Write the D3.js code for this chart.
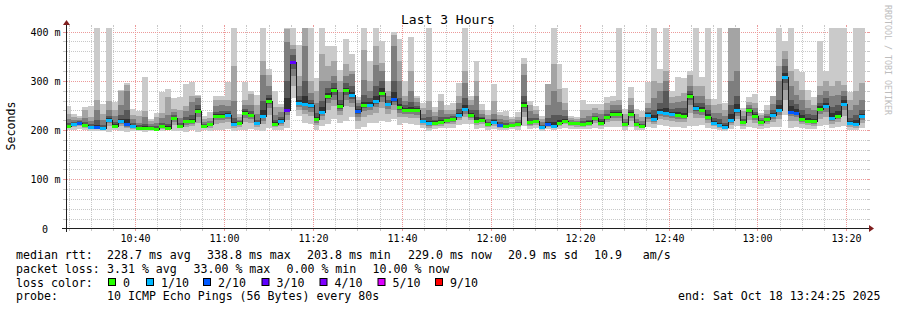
<!DOCTYPE html>
<html>
<head>
<meta charset="utf-8">
<script src="https://cdn.jsdelivr.net/npm/d3@7"></script>
<style>
body { margin: 0; background: #fff; }
text { font-family: "DejaVu Sans Mono", monospace; }
</style>
</head>
<body>
<script>
// lost pings (of 10) per 80s step, oldest first
var lossCount = [0,1,2,0,1,2,1,1,0,1,2,1,0,0,0,0,0,0,0,0,0,0,0,0,0,0,0,1,1,0,
    0,0,1,1,0,0,1,3,3,1,1,1,0,1,0,0,0,0,1,2,0,1,1,0,1,2,0,0,0,0,
    1,1,0,0,0,0,1,1,0,0,0,0,1,2,0,0,0,0,0,0,1,2,1,0,0,0,0,0,0,0,
    0,0,0,0,0,0,0,0,1,1,1,1,1,0,0,0,1,0,0,1,1,1,1,1,0,0,0,0,0,1,
    1,1,2,2,0,0,0,0,1,1,0,1,1,1,1];

// median rtt (ms) per step
var median = [209,212,215,211,207,207,205,221,209,219,212,209,205,205,204,203,208,205,224,209,
    218,218,238,209,212,229,229,231,212,215,235,230,214,228,260,212,218,241,338,256,
    254,251,222,237,270,281,248,281,271,239,251,251,259,275,252,264,246,240,240,240,
    218,214,215,216,220,222,231,242,230,219,221,212,216,211,209,210,212,250,216,218,
    206,212,209,215,219,214,214,212,215,224,215,226,233,233,212,233,212,209,231,222,
    236,235,232,231,229,269,244,241,227,215,210,207,221,240,216,240,228,216,222,231,
    241,307,237,234,222,219,218,243,249,224,229,254,214,212,228];

// the 10 sorted ping times (ms) per step, 450 = above graph top
var pings = [
    [200,204,206,208,208,211,215,222,232,248],[201,206,208,210,211,213,216,220,226,233],
    [202,208,211,213,214,216,218,220,224,228],[200,205,207,209,210,213,216,225,240,246],
    [199,203,204,206,206,209,212,218,226,248],[198,202,204,206,206,210,220,240,262,450],
    [199,202,203,204,204,207,210,220,232,252],[197,208,214,218,220,224,228,240,260,450],
    [200,204,206,208,208,212,216,228,240,258],[198,208,212,216,218,223,230,250,279,282],
    [196,204,207,210,211,222,240,280,292,295],[198,203,205,207,208,211,215,222,230,242],
    [199,202,203,204,204,207,210,215,228,238],[197,201,202,204,204,208,212,226,238,308],
    [199,202,202,203,203,206,208,212,218,222],[200,201,202,202,202,205,208,215,226,235],
    [199,203,205,207,207,211,214,224,235,277],[200,202,203,204,204,208,212,230,268,283],
    [198,210,216,220,223,226,230,236,243,266],[199,204,206,208,208,211,214,224,240,268],
    [196,206,211,215,217,221,226,238,248,294],[200,208,212,216,217,223,230,258,270,297],
    [197,215,226,234,237,243,250,266,270,272],[200,204,206,208,208,211,212,216,222,229],
    [199,205,208,210,211,213,215,218,225,236],[200,213,220,225,228,232,236,248,262,270],
    [201,214,220,225,228,232,238,250,262,270],[203,216,222,227,230,234,238,248,262,298],
    [198,204,208,210,211,217,225,260,331,450],[200,207,210,213,214,217,218,220,226,233],
    [201,216,225,230,234,238,242,250,262,298],[202,215,222,226,229,233,238,250,273,280],
    [200,206,210,212,213,217,220,232,250,271],[199,212,219,224,227,240,260,312,341,450],
    [205,230,244,252,259,266,272,290,312,324],[200,206,208,210,211,216,220,230,246,280],
    [200,208,212,215,217,222,226,236,246,253],[205,220,230,236,240,265,300,378,405,450],
    [266,290,310,325,335,341,352,365,372,450],[228,240,246,251,255,262,270,290,309,372],
    [215,232,240,248,253,270,300,370,450,450],[212,228,236,245,250,256,262,275,300,450],
    [200,210,215,218,221,227,235,255,280,305],[208,220,228,233,236,246,260,300,354,450],
    [213,240,255,263,269,276,285,300,330,370],[222,248,262,272,280,286,295,310,340,370],
    [215,230,238,243,247,254,262,278,300,322],[218,248,262,272,280,286,295,310,335,386],
    [226,246,256,264,270,278,290,313,320,355],[202,218,226,233,238,242,248,255,262,268],
    [206,226,238,245,250,258,272,302,362,450],[215,231,240,246,250,257,265,280,300,340],
    [214,234,246,253,258,270,290,332,370,450],[219,244,258,267,274,285,300,320,336,380],
    [216,232,242,248,251,256,262,270,280,300],[222,240,250,258,263,278,300,370,393,400],
    [210,226,235,241,245,254,265,300,340,385],[215,226,232,236,239,244,250,260,270,300],
    [212,225,232,236,239,247,258,280,320,389],[210,224,231,236,239,244,248,258,265,270],
    [205,211,214,216,217,221,225,232,245,256],[198,205,209,212,213,219,226,240,260,450],
    [203,208,211,213,214,218,220,228,236,246],[204,209,212,214,215,220,226,240,260,273],
    [205,212,215,218,219,223,226,232,240,250],[205,213,217,220,221,225,228,232,240,255],
    [210,220,225,228,230,235,242,255,270,295],[212,226,233,238,241,251,265,295,320,450],
    [212,220,224,227,229,234,240,250,262,270],[203,210,214,217,218,226,240,270,300,340],
    [204,212,216,219,220,224,226,232,240,252],[200,206,208,210,211,214,216,222,230,240],
    [203,209,212,214,215,220,222,232,260,294],[200,205,207,209,210,213,216,222,230,237],
    [200,204,206,208,208,211,214,220,228,238],[202,206,207,209,209,212,213,217,222,226],
    [201,206,208,210,211,214,216,220,226,236],[208,227,237,244,249,258,270,312,334,346],
    [202,208,211,214,215,219,225,238,250,260],[204,211,214,216,217,221,225,232,240,248],
    [198,202,203,205,205,208,210,216,222,228],[202,206,208,210,211,216,225,250,294,294],
    [200,204,206,208,208,217,230,280,335,450],[203,208,211,213,214,221,230,258,284,335],
    [205,212,215,217,218,223,228,240,255,285],[203,208,211,212,213,216,217,220,225,229],
    [202,207,210,212,213,215,216,218,222,226],[202,207,209,211,211,215,218,225,240,262],
    [203,209,211,213,214,218,220,228,240,253],[205,214,218,222,223,226,228,235,245,253],
    [203,209,212,214,214,219,222,232,240,253],[206,216,220,224,225,229,232,240,255,267],
    [207,219,225,230,232,236,240,250,260,270],[206,218,225,230,232,236,240,250,262,450],
    [200,206,208,210,211,214,216,222,232,242],[206,218,225,230,232,236,240,250,265,288],
    [200,206,208,210,211,214,216,222,232,243],[200,204,206,208,208,211,213,218,226,238],
    [206,217,223,228,230,234,236,244,256,297],[205,213,217,220,221,230,240,265,300,450],
    [210,222,228,233,235,243,255,280,295,324],[208,220,227,232,234,245,280,300,320,450],
    [207,218,224,229,231,236,242,255,268,280],[206,217,223,228,230,236,245,258,270,307],
    [205,216,222,226,228,235,245,260,275,305],[208,235,250,262,268,274,280,290,312,320],
    [208,224,233,239,243,249,255,270,290,450],[210,224,231,237,240,246,255,270,290,307],
    [205,215,220,224,226,232,240,250,264,450],[202,208,211,213,214,219,225,235,250,263],
    [200,205,207,209,209,214,222,235,253,450],[198,202,204,206,206,210,215,228,240,256],
    [203,211,215,219,220,232,250,300,450,450],[208,222,229,235,239,252,270,320,450,450],
    [203,209,212,214,215,219,222,228,238,244],[206,221,229,235,239,242,245,250,258,267],
    [205,215,221,225,227,232,236,245,256,273],[203,209,212,214,215,218,220,225,230,235],
    [204,212,216,219,221,225,228,232,240,251],[206,217,223,227,230,235,240,252,270,270],
    [207,222,231,237,240,250,262,300,330,450],[230,262,282,296,304,315,330,345,360,382],
    [205,219,228,233,236,248,262,290,320,450],[206,218,226,231,233,242,252,272,300,324],
    [204,212,216,219,221,230,240,262,282,319],[203,210,214,217,218,225,232,245,262,282],
    [202,209,213,216,217,223,230,240,250,267],[208,223,233,239,242,248,255,272,290,380],
    [210,227,237,244,248,256,265,280,300,321],[205,213,218,221,223,234,246,270,290,450],
    [206,216,222,226,228,238,250,272,300,450],[208,228,240,248,253,261,270,280,292,450],
    [200,206,210,212,213,219,225,240,262,278],[200,205,208,210,211,220,230,250,280,450],
    [205,215,221,225,227,233,240,262,295,450]
];

var lossSteps = [1, 2, 3, 4, 5, 9];
var lossLabels = ["0", "1/10", "2/10", "3/10", "4/10", "5/10", "9/10"];
var lossColors = ["#26ff00", "#00b8ff", "#0059ff", "#5e00ff", "#7e00ff", "#dd00ff", "#ff0000"];
var smokeColors = ["#cacaca", "#a4a4a4", "#7e7e7e", "#585858", "#323232"];
var yTicks = [0, 100, 200, 300, 400];
var yTickLabels = ["0", "100 m", "200 m", "300 m", "400 m"];

var rttStats = ["228.7 ms avg", "338.8 ms max", "203.8 ms min", "229.0 ms now", "20.9 ms sd", "10.9   am/s"];
var lossStats = ["3.31 % avg", "33.00 % max", "0.00 % min", "10.00 % now"];
var probeText = "10 ICMP Echo Pings (56 Bytes) every 80s";
var endText = "end: Sat Oct 18 13:24:25 2025";

var W = 897, H = 310;
var endTime = Date.UTC(2025, 9, 18, 13, 24, 25);
var startTime = endTime - 3 * 3600 * 1000;
var stepMs = 80000;
var lastStep = endTime - 25000;

var svg = d3.select("body").append("svg")
    .attr("width", W)
    .attr("height", H);

var x = d3.scaleUtc()
    .domain([startTime, endTime])
    .range([66.5, 866.5]);

var y = d3.scaleLinear()
    .domain([0, 406.4])
    .range([228.5, 28.5]);

var lossColor = d3.scaleThreshold()
    .domain(lossSteps)
    .range(lossColors);

var steps = median.map(function (m, k) {
    var t1 = lastStep - stepMs * (median.length - 1 - k);
    return {
        t0: t1 - stepMs,
        t1: t1,
        median: m,
        loss: lossCount[k],
        pings: pings[k]
    };
});

function px(t) {
    return Math.round(Math.max(x(t), x.range()[0]));
}

svg.append("clipPath").attr("id", "plot")
    .append("rect")
    .attr("x", 67).attr("y", 28)
    .attr("width", 800).attr("height", 200);

var minorT = d3.utcMinute.every(5).range(new Date(startTime), new Date(endTime));
var majorT = d3.utcMinute.every(20).range(new Date(startTime), new Date(endTime));
var minorY = d3.range(20, 401, 20).filter(function (d) { return d % 100 !== 0; });
var gridC = "#c8c8c8", mgridC = "#ec9a9a";

// grid, with the little ticks rrdtool puts outside the plot
var grid = svg.append("g").attr("shape-rendering", "crispEdges");

function vLines(data, col) {
    var xs = data.map(function (d) { return Math.floor(x(d)) + 0.5; });
    grid.append("g").selectAll("line").data(xs).enter().append("line")
        .attr("x1", function (d) { return d; }).attr("x2", function (d) { return d; })
        .attr("y1", 28).attr("y2", 228)
        .attr("stroke", col).attr("stroke-dasharray", "1,1");
    grid.append("g").selectAll("line").data(xs).enter().append("line")
        .attr("x1", function (d) { return d; }).attr("x2", function (d) { return d; })
        .attr("y1", 229).attr("y2", 231)
        .attr("stroke", col);
    grid.append("g").selectAll("line").data(xs).enter().append("line")
        .attr("x1", function (d) { return d; }).attr("x2", function (d) { return d; })
        .attr("y1", 25).attr("y2", 27)
        .attr("stroke", col);
}

function hLines(data, col) {
    var ys = data.map(function (d) { return Math.round(y(d)) + 0.5; });
    grid.append("g").selectAll("line").data(ys).enter().append("line")
        .attr("x1", 67).attr("x2", 867)
        .attr("y1", function (d) { return d; }).attr("y2", function (d) { return d; })
        .attr("stroke", col).attr("stroke-dasharray", "1,1");
    grid.append("g").selectAll("line").data(ys).enter().append("line")
        .attr("x1", 63).attr("x2", 66)
        .attr("y1", function (d) { return d; }).attr("y2", function (d) { return d; })
        .attr("stroke", col);
    grid.append("g").selectAll("line").data(ys).enter().append("line")
        .attr("x1", 867).attr("x2", 870)
        .attr("y1", function (d) { return d; }).attr("y2", function (d) { return d; })
        .attr("stroke", col);
}

vLines(minorT.filter(function (d) { return d.getUTCMinutes() % 20 !== 0; }), gridC);
hLines(minorY, gridC);
vLines(majorT, mgridC);
hLines(yTicks.slice(1), mgridC);

// smoke
var plot = svg.append("g").attr("clip-path", "url(#plot)");

smokeColors.forEach(function (c, b) {
    plot.append("g").selectAll("rect").data(steps).enter().append("rect")
        .attr("x", function (d) { return px(d.t0); })
        .attr("width", function (d) { return px(d.t1) - px(d.t0); })
        .attr("y", function (d) { return Math.round(y(d.pings[9 - b])); })
        .attr("height", function (d) {
            return Math.max(0, Math.round(y(d.pings[b])) - Math.round(y(d.pings[9 - b])));
        })
        .attr("fill", c)
        .attr("shape-rendering", "crispEdges");
});

// median line
var medPts = [];
steps.forEach(function (d) {
    medPts.push([px(d.t0), Math.round(y(d.median)) + 0.5]);
    medPts.push([px(d.t1), Math.round(y(d.median)) + 0.5]);
});
plot.append("path")
    .attr("d", d3.line()(medPts))
    .attr("fill", "none")
    .attr("stroke", "#202020")
    .attr("stroke-width", 1)
    .attr("shape-rendering", "crispEdges");

plot.append("g").selectAll("rect").data(steps).enter().append("rect")
    .attr("x", function (d) { return px(d.t0); })
    .attr("width", function (d) { return px(d.t1) - px(d.t0); })
    .attr("y", function (d) { return Math.round(y(d.median)) - 1; })
    .attr("height", 3)
    .attr("fill", function (d) { return lossColor(d.loss); })
    .attr("shape-rendering", "crispEdges");

// axes
var axis = svg.append("g").attr("shape-rendering", "crispEdges");
axis.append("line").attr("x1", 62).attr("x2", 870).attr("y1", 228.5).attr("y2", 228.5)
    .attr("stroke", "#1f1f1f");
axis.append("line").attr("x1", 66.5).attr("x2", 66.5).attr("y1", 232).attr("y2", 24)
    .attr("stroke", "#1f1f1f");
svg.append("path").attr("d", "M869,225L874,228.5L869,232Z").attr("fill", "#801f1f");
svg.append("path").attr("d", "M63,25L66.5,20L70,25Z").attr("fill", "#801f1f");

svg.selectAll(".ylab").data(yTicks).enter().append("text")
    .attr("x", function (d) { return d === 0 ? 48 : 60.5; })
    .attr("y", function (d) { return Math.round(y(d)) + 4; })
    .attr("text-anchor", "end")
    .attr("font-size", "10px")
    .text(function (d, i) { return yTickLabels[i]; });

svg.selectAll(".xlab").data(majorT).enter().append("text")
    .attr("x", function (d) { return Math.floor(x(d)) + 0.5; })
    .attr("y", 242)
    .attr("text-anchor", "middle")
    .attr("font-size", "10px")
    .text(d3.utcFormat("%H:%M"));

svg.append("text")
    .attr("x", 448).attr("y", 24)
    .attr("text-anchor", "middle")
    .attr("font-size", "13px")
    .text("Last 3 Hours");

svg.append("text")
    .attr("transform", "translate(14.5,126) rotate(-90)")
    .attr("text-anchor", "middle")
    .attr("font-size", "11.6px")
    .text("Seconds");

svg.append("text")
    .attr("transform", "translate(884.5,5) rotate(90)")
    .attr("font-size", "8.3px")
    .attr("fill", "#bdbdbd")
    .text("RRDTOOL / TOBI OETIKER");

// legend
var leg = svg.append("g").attr("font-size", "11.6px");
var rows = [259, 272.7, 286.5, 300];
leg.append("text").attr("x", 16).attr("y", rows[0]).text("median rtt:");
leg.append("text").attr("x", 16).attr("y", rows[1]).text("packet loss:");
leg.append("text").attr("x", 16).attr("y", rows[2]).text("loss color:");
leg.append("text").attr("x", 16).attr("y", rows[3]).text("probe:");

var rttX = [107, 207, 307, 408, 508, 594];
rttStats.forEach(function (s, i) {
    leg.append("text").attr("x", rttX[i]).attr("y", rows[0])
        .style("white-space", "pre").text(s);
});
var lossX = [107, 193.5, 286.5, 372.5];
lossStats.forEach(function (s, i) {
    leg.append("text").attr("x", lossX[i]).attr("y", rows[1]).text(s);
});
var boxX = [108, 146, 203, 261.5, 319.5, 377.5, 435];
lossLabels.forEach(function (s, i) {
    leg.append("rect")
        .attr("x", boxX[i] + 0.5).attr("y", 278.5)
        .attr("width", 7).attr("height", 7)
        .attr("fill", lossColors[i])
        .attr("stroke", "#000");
    leg.append("text").attr("x", boxX[i] + 15).attr("y", rows[2]).text(s);
});
leg.append("text").attr("x", 107).attr("y", rows[3]).text(probeText);
leg.append("text").attr("x", 678).attr("y", rows[3]).text(endText);
</script>
</body>
</html>
